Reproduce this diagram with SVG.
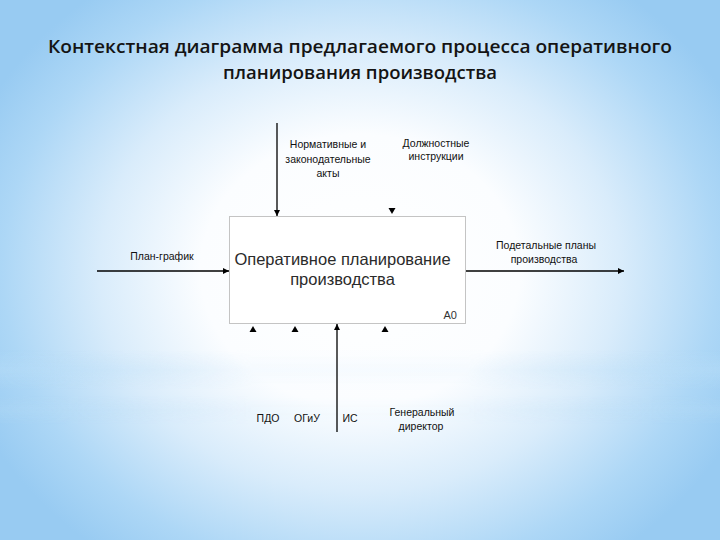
<svg xmlns="http://www.w3.org/2000/svg" width="720" height="540" viewBox="0 0 720 540">
<defs>
<radialGradient id="bg" cx="360" cy="270" r="420" gradientUnits="userSpaceOnUse" gradientTransform="translate(360 270) scale(1 0.85) translate(-360 -270)">
<stop offset="0" stop-color="#ffffff"/>
<stop offset="0.38" stop-color="#fbfdff"/>
<stop offset="0.62" stop-color="#d9ecfb"/>
<stop offset="0.85" stop-color="#add7f6"/>
<stop offset="1" stop-color="#98cbf2"/>
</radialGradient>
<linearGradient id="band" x1="0" y1="0" x2="0" y2="1">
<stop offset="0" stop-color="#b9def8" stop-opacity="0"/>
<stop offset="0.5" stop-color="#b9def8" stop-opacity="0.45"/>
<stop offset="1" stop-color="#b9def8" stop-opacity="0"/>
</linearGradient>
<linearGradient id="bandmask" x1="0" y1="0" x2="1" y2="0">
<stop offset="0" stop-color="#fff" stop-opacity="1"/>
<stop offset="0.35" stop-color="#fff" stop-opacity="0.2"/>
<stop offset="0.65" stop-color="#fff" stop-opacity="0.2"/>
<stop offset="1" stop-color="#fff" stop-opacity="1"/>
</linearGradient>
<mask id="bm"><rect x="0" y="0" width="720" height="540" fill="url(#bandmask)"/></mask>
<marker id="ah" viewBox="0 0 10 10" refX="10" refY="5" markerWidth="6" markerHeight="6" orient="auto" markerUnits="userSpaceOnUse">
<path d="M0,0 L10,5 L0,10 z" fill="#000"/>
</marker>
</defs>
<style>
.title{font-family:"Open Sans","Noto Sans",sans-serif;font-weight:600;font-size:18.5px;fill:#141414;text-anchor:middle}
.lbl{font-family:"Liberation Sans",Arial,sans-serif;font-size:10.5px;fill:#111;text-anchor:middle}
.main{font-family:"Liberation Sans",Arial,sans-serif;font-size:16.5px;fill:#2b2b2b;text-anchor:middle}
.code{font-family:"Liberation Sans",Arial,sans-serif;font-size:11px;fill:#333;text-anchor:end}
.ln{stroke:#000;stroke-width:1.3;fill:none}
.tri{fill:#000}
</style>
<rect x="0" y="0" width="720" height="540" fill="url(#bg)"/>
<g mask="url(#bm)">
<rect x="0" y="350" width="720" height="40" fill="url(#band)"/>
<rect x="0" y="395" width="720" height="30" fill="url(#band)" opacity="0.6"/>
</g>
<g id="title">
<text class="title" x="360" y="53" textLength="624" lengthAdjust="spacingAndGlyphs">Контекстная диаграмма предлагаемого процесса оперативного</text>
<text class="title" x="360" y="79">планирования производства</text>
</g>
<g id="A0">
<rect x="229.5" y="216.5" width="236" height="107" fill="#ffffff" stroke="#c4c4c4" stroke-width="1"/>
<text class="main" x="342.5" y="265">Оперативное планирование</text>
<text class="main" x="342.5" y="285">производства</text>
<text class="code" x="457" y="319">А0</text>
</g>
<g id="connectors">
<line class="ln" x1="277" y1="123" x2="277" y2="216" marker-end="url(#ah)"/>
<path class="tri" d="M388.5,208 L395.5,208 L392,214 z"/>
<line class="ln" x1="97" y1="271" x2="229" y2="271" marker-end="url(#ah)"/>
<line class="ln" x1="466" y1="271" x2="624" y2="271" marker-end="url(#ah)"/>
<line class="ln" x1="337" y1="432" x2="337" y2="324" marker-end="url(#ah)"/>
<path class="tri" d="M253,326 L256.5,332 L249.5,332 z"/>
<path class="tri" d="M295,326 L298.5,332 L291.5,332 z"/>
<path class="tri" d="M385,326 L388.5,332 L381.5,332 z"/>
</g>
<g id="label-normy">
<text class="lbl" x="328" y="148">Нормативные и</text>
<text class="lbl" x="328" y="163">законодательные</text>
<text class="lbl" x="328" y="177">акты</text>
</g>
<g id="label-instr">
<text class="lbl" x="436" y="147">Должностные</text>
<text class="lbl" x="436" y="160">инструкции</text>
</g>
<g id="label-plan">
<text class="lbl" x="162" y="260">План-график</text>
</g>
<g id="label-out">
<text class="lbl" x="546" y="249">Подетальные планы</text>
<text class="lbl" x="544" y="263">производства</text>
</g>
<g id="label-mech">
<text class="lbl" x="268" y="422">ПДО</text>
<text class="lbl" x="307" y="422">ОГиУ</text>
<text class="lbl" x="350" y="422">ИС</text>
<text class="lbl" x="422" y="416">Генеральный</text>
<text class="lbl" x="421" y="430">директор</text>
</g>
</svg>
